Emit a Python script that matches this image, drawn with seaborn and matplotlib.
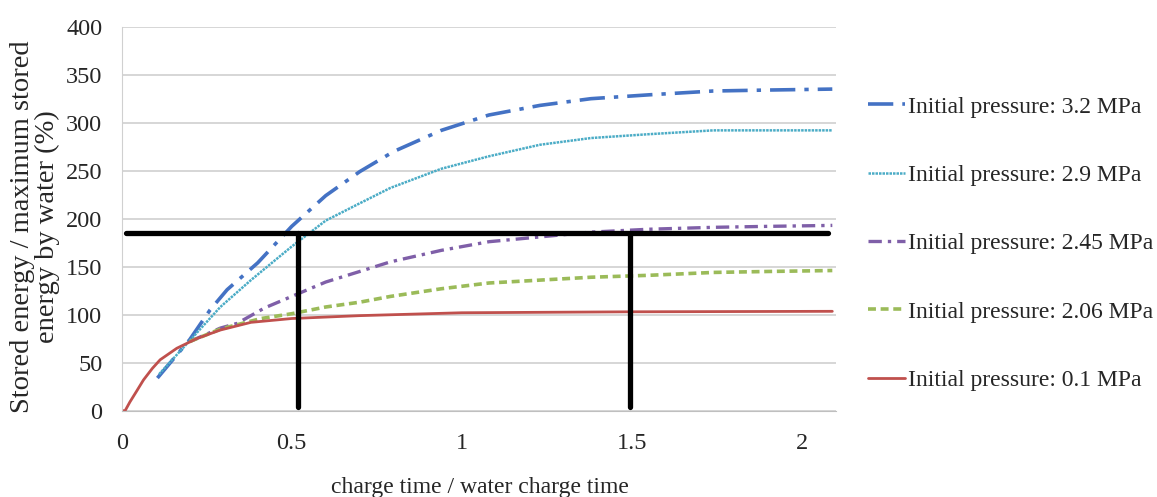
import pandas as pd
import matplotlib
matplotlib.use("Agg")
import matplotlib.pyplot as plt
import seaborn as sns

# values
labels = ["Initial pressure: 3.2 MPa", "Initial pressure: 2.9 MPa",
          "Initial pressure: 2.45 MPa", "Initial pressure: 2.06 MPa",
          "Initial pressure: 0.1 MPa"]

x_32 = [0.105, 0.15, 0.2, 0.26, 0.31, 0.4, 0.5, 0.6, 0.7, 0.8, 0.94, 1.08, 1.23, 1.38, 1.55, 1.74, 1.9, 2.09]
y_32 = [34, 53, 74, 105, 126, 154, 192, 224, 249, 270, 292, 308, 318, 325, 329, 333, 334, 335]

x_29 = [0.11, 0.2, 0.29, 0.38, 0.5, 0.6, 0.7, 0.79, 0.94, 1.08, 1.23, 1.38, 1.55, 1.74, 1.9, 2.09]
y_29 = [38, 73, 108, 136, 171, 198, 216, 232, 252, 265, 277, 284, 288, 292, 292, 292]

x_245 = [0.2, 0.29, 0.34, 0.42, 0.5, 0.6, 0.7, 0.79, 0.94, 1.08, 1.23, 1.38, 1.55, 1.74, 1.9, 2.09]
y_245 = [72, 86, 91, 107, 119, 134, 145, 155, 167, 176, 181, 186, 189, 191, 192, 193]

x_206 = [0.2, 0.29, 0.41, 0.5, 0.6, 0.7, 0.79, 0.94, 1.08, 1.23, 1.38, 1.55, 1.74, 1.9, 2.09]
y_206 = [72, 85, 96, 101, 108, 113, 119, 127, 133, 136, 139, 141, 144, 145, 146]

x_01 = [0.0, 0.01, 0.024, 0.045, 0.064, 0.09, 0.113, 0.162, 0.22, 0.29, 0.38, 0.5, 0.7, 1.0, 1.5, 2.09]
y_01 = [0, 0, 9, 21, 32, 44, 53, 65, 75, 84, 92, 96, 99, 102, 103, 103.5]

colors = ["#4472C4", "#4BACC6", "#7F5FA8", "#9BBB59", "#C0504D"]
dashes = [(7, 2.5, 1.2, 2.5), (1, 0.4), (4, 1.8, 1, 1.8), (2.2, 1.3), None]
widths = [2.6, 1.8, 2.4, 2.6, 2.0]

# black marker lines drawn on the chart
h_x = [0.013, 2.078]
h_y = [185, 185]
v1_x = [0.518, 0.518]
v2_x = [1.495, 1.495]
v_y = [4, 185]

sns.set_style("whitegrid")
plt.rcParams["font.family"] = ["Liberation Serif", "DejaVu Serif"]

fig = plt.figure(figsize=(11.57, 4.97), dpi=100)
ax = fig.add_axes([0.1052, 0.1737, 0.6171, 0.7726])

series = [(x_32, y_32), (x_29, y_29), (x_245, y_245), (x_206, y_206), (x_01, y_01)]
for (xs, ys), lab, c, d, w in zip(series, labels, colors, dashes, widths):
    df = pd.DataFrame({"x": xs, "y": ys})
    sns.lineplot(data=df, x="x", y="y", color=c, linewidth=w, label=lab, ax=ax)
    if d is not None:
        ax.lines[-1].set_dashes(d)

for lx, ly in [(h_x, h_y), (v1_x, v_y), (v2_x, v_y)]:
    sns.lineplot(x=lx, y=ly, color="black", linewidth=3.8, estimator=None,
                 sort=False, errorbar=None, ax=ax)

ax.set_xlim(0, 2.1)
ax.set_ylim(0, 400)
ax.set_xticks([0, 0.5, 1, 1.5, 2])
ax.set_xticklabels(["0", "0.5", "1", "1.5", "2"])
ax.set_yticks(range(0, 401, 50))
ax.grid(axis="x", visible=False)
ax.grid(axis="y", color="#d0d0d0", linewidth=1.2)
for s in ["top", "right"]:
    ax.spines[s].set_visible(False)
ax.spines["left"].set_color("#d0d0d0")
ax.spines["bottom"].set_color("#bfbfbf")
ax.tick_params(axis="x", length=5, color="#bfbfbf", labelsize=17.5, pad=11)
ax.tick_params(axis="y", length=4, color="#d0d0d0", labelsize=17.5, pad=10)

ax.set_xlabel("charge time / water charge time", fontsize=17)
ax.xaxis.set_label_coords(0.502, -0.172)
ax.set_ylabel("Stored energy / maximum stored\nenergy by water (%)", fontsize=20.5, linespacing=1.0)
ax.yaxis.set_label_coords(-0.086, 0.48)

handles, labs = ax.get_legend_handles_labels()
ax.legend(handles[:5], labs[:5], loc="center left", bbox_to_anchor=(0.7316, 0.51),
          bbox_transform=fig.transFigure, frameon=False, fontsize=17,
          labelspacing=1.98, handlelength=1.6, handletextpad=0.1)

fig.savefig("out.png", dpi=100)
